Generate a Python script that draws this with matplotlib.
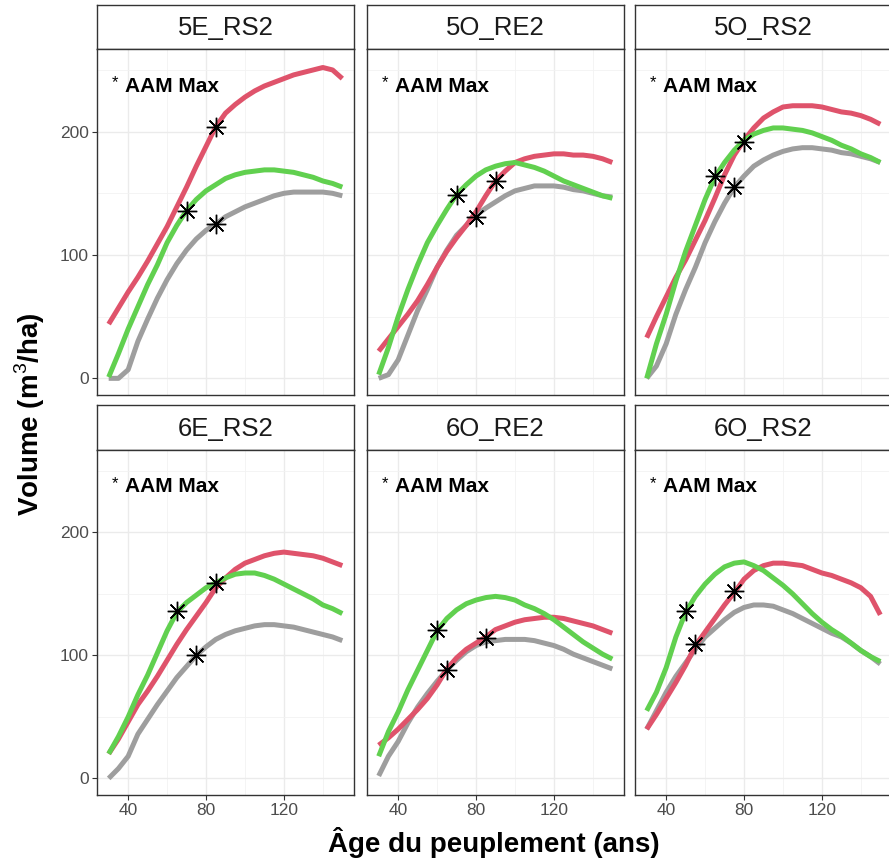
import matplotlib
matplotlib.use("Agg")
import matplotlib.pyplot as plt
from matplotlib.ticker import FixedLocator

plt.rcParams['font.family'] = ['Liberation Sans', 'DejaVu Sans']
plt.rcParams['mathtext.fontset'] = 'custom'
plt.rcParams['mathtext.rm'] = 'Liberation Sans'
plt.rcParams['mathtext.bf'] = 'Liberation Sans:bold'

# ---------------- data ----------------
AGE = [30, 35, 40, 45, 50, 55, 60, 65, 70, 75, 80, 85, 90, 95, 100,
       105, 110, 115, 120, 125, 130, 135, 140, 145, 150]

PANELS = ["5E_RS2", "5O_RE2", "5O_RS2", "6E_RS2", "6O_RE2", "6O_RS2"]

# 5E_RS2
red_5E_RS2 = [44, 57, 70, 82, 95, 109, 123, 139, 155, 172, 188, 204, 215, 222, 228,
              233, 237, 240, 243, 246, 248, 250, 252, 250, 243]
green_5E_RS2 = [1, 20, 40, 58, 76, 92, 110, 124, 136, 145, 152, 157, 162, 165, 167,
                168, 169, 169, 168, 167, 165, 163, 160, 158, 155]
gray_5E_RS2 = [0, 0, 7, 30, 48, 65, 80, 93, 104, 113, 120, 125, 131, 135, 139,
               142, 145, 148, 150, 151, 151, 151, 151, 150, 148]
# 5O_RE2
red_5O_RE2 = [22, 32, 42, 52, 63, 76, 90, 103, 114, 124, 135, 148, 160, 168, 175,
              178, 180, 181, 182, 182, 181, 181, 180, 178, 175]
green_5O_RE2 = [3, 25, 50, 72, 92, 110, 124, 137, 149, 157, 164, 169, 172, 174, 175,
                173, 171, 168, 164, 160, 157, 154, 151, 148, 146]
gray_5O_RE2 = [0, 3, 15, 35, 55, 72, 90, 104, 116, 124, 132, 138, 143, 148, 152,
               154, 156, 156, 156, 155, 153, 152, 150, 148, 147]
# 5O_RS2
red_5O_RS2 = [33, 50, 66, 82, 96, 112, 128, 146, 165, 181, 193, 203, 211, 216, 220,
              221, 221, 221, 220, 218, 216, 215, 213, 210, 206]
green_5O_RS2 = [0, 28, 52, 79, 103, 124, 145, 163, 175, 185, 193, 198, 201, 203, 203,
                202, 201, 199, 196, 193, 189, 186, 182, 179, 175]
gray_5O_RS2 = [0, 10, 28, 52, 72, 90, 110, 127, 142, 155, 164, 172, 177, 181, 184,
               186, 187, 187, 186, 185, 183, 182, 180, 178, 175]
# 6E_RS2
red_6E_RS2 = [20, 32, 46, 60, 71, 83, 96, 109, 121, 132, 143, 155, 163, 170, 175,
              178, 181, 183, 184, 183, 182, 181, 179, 176, 173]
green_6E_RS2 = [20, 34, 50, 68, 84, 102, 120, 135, 143, 149, 155, 159, 163, 166, 167,
                167, 165, 162, 158, 154, 150, 146, 141, 138, 134]
gray_6E_RS2 = [0, 8, 18, 36, 48, 60, 71, 82, 91, 100, 107, 113, 117, 120, 122,
               124, 125, 125, 124, 123, 121, 119, 117, 115, 112]
# 6O_RE2
red_6O_RE2 = [27, 33, 40, 48, 56, 65, 76, 89, 98, 105, 110, 115, 121, 124, 127,
              129, 130, 131, 131, 130, 128, 126, 124, 121, 118]
green_6O_RE2 = [18, 38, 54, 72, 88, 104, 120, 130, 137, 142, 145, 147, 148, 147, 145,
                141, 138, 134, 129, 123, 117, 111, 106, 101, 97]
gray_6O_RE2 = [2, 18, 30, 45, 58, 69, 79, 88, 96, 103, 108, 111, 112, 113, 113,
               113, 112, 110, 108, 105, 101, 98, 95, 92, 89]
# 6O_RS2
red_6O_RS2 = [40, 52, 65, 78, 92, 108, 119, 130, 141, 151, 162, 169, 173, 175, 175,
              174, 173, 170, 167, 165, 162, 159, 155, 148, 133]
green_6O_RS2 = [55, 70, 90, 115, 135, 148, 158, 166, 172, 175, 176, 173, 169, 163, 157,
                150, 142, 134, 127, 121, 116, 110, 104, 99, 95]
gray_6O_RS2 = [40, 55, 70, 83, 94, 105, 115, 122, 129, 135, 139, 141, 141, 140, 137,
               134, 130, 126, 122, 118, 115, 110, 104, 99, 93]

RED = [red_5E_RS2, red_5O_RE2, red_5O_RS2, red_6E_RS2, red_6O_RE2, red_6O_RS2]
GREEN = [green_5E_RS2, green_5O_RE2, green_5O_RS2, green_6E_RS2, green_6O_RE2, green_6O_RS2]
GRAY = [gray_5E_RS2, gray_5O_RE2, gray_5O_RS2, gray_6E_RS2, gray_6O_RE2, gray_6O_RS2]

# AAM max points (age, volume) per panel
STAR_AGE = [[85, 70, 85], [90, 70, 80], [80, 65, 75],
            [85, 65, 75], [85, 60, 65], [75, 50, 55]]
STAR_VOL = [[204, 136, 125], [160, 149, 131], [192, 164, 155],
            [159, 136, 100], [114, 121, 88], [152, 136, 109]]

X_TICKS = [40, 80, 120]
Y_TICKS = [0, 100, 200]
ANNOT_LABEL = "AAM Max"
X_TITLE = "Âge du peuplement (ans)"
Y_TITLE = "Volume (m$^{3}$/ha)"

# ---------------- layout ----------------
W, H = 889, 861
fig = plt.figure(figsize=(W / 100, H / 100), dpi=100)
fig.patch.set_facecolor("white")

def box(l, t, r, b):
    return [l / W, 1 - b / H, (r - l) / W, (b - t) / H]

col_l = [97, 367, 635]
col_w = 257
row_strip_top = [5, 405]
row_strip_bot = [49, 450]
row_bot = [395, 795]

C_RED = "#DF536B"
C_GREEN = "#61D04F"
C_GRAY = "#9E9E9E"
BORDER = "#333333"

for i, name in enumerate(PANELS):
    r, c = divmod(i, 3)
    l = col_l[c]
    rr = l + col_w
    # strip
    sax = fig.add_axes(box(l, row_strip_top[r], rr, row_strip_bot[r]))
    sax.set_xticks([]); sax.set_yticks([])
    for s in sax.spines.values():
        s.set_color(BORDER); s.set_linewidth(1.0)
    sax.text(0.5, 0.47, name, ha="center", va="center", fontsize=18.5,
             color="#1A1A1A", transform=sax.transAxes)
    # panel
    ax = fig.add_axes(box(l, row_strip_bot[r], rr, row_bot[r]))
    ax.set_xlim(24, 156)
    ax.set_ylim(-13.5, 267)
    ax.xaxis.set_major_locator(FixedLocator(X_TICKS))
    ax.xaxis.set_minor_locator(FixedLocator([60, 100, 140]))
    ax.yaxis.set_major_locator(FixedLocator(Y_TICKS))
    ax.yaxis.set_minor_locator(FixedLocator([50, 150, 250]))
    ax.grid(which="major", color="#EBEBEB", linewidth=1.0)
    ax.grid(which="minor", color="#F2F2F2", linewidth=0.6)
    ax.set_axisbelow(True)
    for s in ax.spines.values():
        s.set_color(BORDER); s.set_linewidth(1.0)
    ax.tick_params(which="minor", length=0)
    ax.tick_params(which="major", length=3.5, width=0.8, color=BORDER,
                   labelsize=12.5, labelcolor="#4D4D4D", pad=2.5)
    if r == 0:
        ax.tick_params(axis="x", which="major", length=0, labelbottom=False)
    if c != 0:
        ax.tick_params(axis="y", which="major", length=0, labelleft=False)

    ax.plot(AGE, GRAY[i], color=C_GRAY, linewidth=3.6, solid_capstyle="butt")
    ax.plot(AGE, RED[i], color=C_RED, linewidth=3.6, solid_capstyle="butt")
    ax.plot(AGE, GREEN[i], color=C_GREEN, linewidth=3.6, solid_capstyle="butt")
    ax.plot(STAR_AGE[i], STAR_VOL[i], linestyle="none", marker=(8, 2, 0),
            markersize=14, markeredgewidth=1.0, color="black")

    ax.text(31.5, 240, "*", fontsize=12, ha="left", va="center", color="black")
    ax.text(38.5, 237, ANNOT_LABEL, fontsize=15, fontweight="bold",
            ha="left", va="center", color="black")

fig.text(494 / W, 1 - 843 / H, X_TITLE, ha="center", va="center",
         fontsize=20, fontweight="bold")
fig.text(30 / W, 1 - 414 / H, Y_TITLE, ha="center", va="center",
         fontsize=20, fontweight="bold", rotation=90)

fig.savefig("out.png", dpi=100, facecolor="white")
